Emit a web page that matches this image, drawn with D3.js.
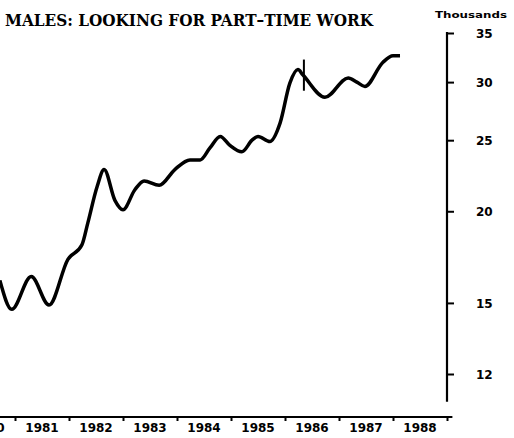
<!DOCTYPE html>
<html>
<head>
<meta charset="utf-8">
<script src="https://cdn.jsdelivr.net/npm/d3@7"></script>
<style>
  body { margin: 0; background: #fff; }
  svg { display: block; }
  .tick text { font-family: "DejaVu Sans", sans-serif; font-weight: bold; font-size: 12px; fill: #000; }
</style>
</head>
<body>
<div id="chart"></div>
<script>
// decimal year of each point
const dates = [1980.72, 1980.94, 1981.30, 1981.63, 1981.98, 1982.24, 1982.35, 1982.52,
  1982.65, 1982.85, 1983.00, 1983.22, 1983.39, 1983.67, 1983.96, 1984.24, 1984.43,
  1984.61, 1984.80, 1984.98, 1985.20, 1985.39, 1985.50, 1985.72, 1985.91, 1986.09,
  1986.24, 1986.33, 1986.74, 1987.17, 1987.33, 1987.48, 1987.81, 1988.00, 1988.13];
// thousands
const values = [16.1, 14.7, 16.3, 14.9, 17.2, 18.0, 19.3, 21.6,
  22.8, 20.7, 20.1, 21.4, 22.0, 21.7, 22.8, 23.5, 23.5,
  24.4, 25.3, 24.6, 24.1, 25.0, 25.3, 24.9, 26.4, 29.9,
  31.2, 30.7, 28.6, 30.4, 30.0, 29.6, 31.9, 32.6, 32.6];
const yearLabels = [1980, 1981, 1982, 1983, 1984, 1985, 1986, 1987, 1988];
const yTicks = [12, 15, 20, 25, 30, 35];
// series break marker
const breakDate = 1986.35;
const breakRange = [29.2, 32.2];

const width = 514, height = 438;

const svg = d3.select("#chart").append("svg")
  .attr("width", width)
  .attr("height", height);

const x = d3.scaleLinear().domain([1981, 1989]).range([15, 447]);
const y = d3.scaleLog().domain([12, 35]).range([374, 33]);

// title
svg.append("text")
  .attr("x", 5).attr("y", 26)
  .attr("font-family", "DejaVu Serif, serif")
  .attr("font-weight", "bold")
  .attr("font-size", 17.5)
  .attr("textLength", 368)
  .attr("lengthAdjust", "spacingAndGlyphs")
  .text("MALES: LOOKING FOR PART\u2013TIME WORK");

svg.append("text")
  .attr("x", 435).attr("y", 18)
  .attr("font-family", "DejaVu Sans, sans-serif")
  .attr("font-weight", "bold")
  .attr("font-size", 9.5)
  .attr("textLength", 72)
  .attr("lengthAdjust", "spacingAndGlyphs")
  .text("Thousands");

// y axis on the right
const yAxis = svg.append("g")
  .attr("transform", `translate(${x(1989)},0)`)
  .call(d3.axisRight(y).tickValues(yTicks).tickFormat(d3.format("d"))
    .tickSize(7).tickSizeOuter(0).tickPadding(22));
yAxis.select(".domain").remove();
yAxis.selectAll(".tick line").attr("stroke", "#000").attr("stroke-width", 2);
yAxis.selectAll(".tick text").attr("dy", "0.35em");
yAxis.append("line")
  .attr("y1", y(35) - 1).attr("y2", y(11))
  .attr("stroke", "#000").attr("stroke-width", 2.2);

// x axis
const xAxisY = 417;
const xAxis = svg.append("g")
  .attr("transform", `translate(0,${xAxisY})`)
  .call(d3.axisBottom(x).tickValues(d3.range(1981, 1990)).tickFormat("")
    .tickSize(4).tickSizeOuter(0));
xAxis.select(".domain").remove();
xAxis.selectAll(".tick line").attr("stroke", "#000").attr("stroke-width", 2);
xAxis.append("line")
  .attr("x1", x(1980.5)).attr("x2", x(1989.1))
  .attr("stroke", "#000").attr("stroke-width", 2.2);

svg.append("g")
  .selectAll("text")
  .data(yearLabels)
  .join("text")
  .attr("x", d => x(d + 0.5))
  .attr("y", 432)
  .attr("text-anchor", "middle")
  .attr("font-family", "DejaVu Sans, sans-serif")
  .attr("font-weight", "bold")
  .attr("font-size", 12)
  .text(d => d);

// series line
const data = dates.map((d, i) => ({ date: d, value: values[i] }));
const line = d3.line()
  .x(d => x(d.date))
  .y(d => y(d.value))
  .curve(d3.curveMonotoneX);

svg.append("path")
  .datum(data)
  .attr("fill", "none")
  .attr("stroke", "#000")
  .attr("stroke-width", 3.5)
  .attr("stroke-linejoin", "round")
  .attr("d", line);

svg.append("line")
  .attr("x1", x(breakDate)).attr("x2", x(breakDate))
  .attr("y1", y(breakRange[1])).attr("y2", y(breakRange[0]))
  .attr("stroke", "#000").attr("stroke-width", 2);
</script>
</body>
</html>
